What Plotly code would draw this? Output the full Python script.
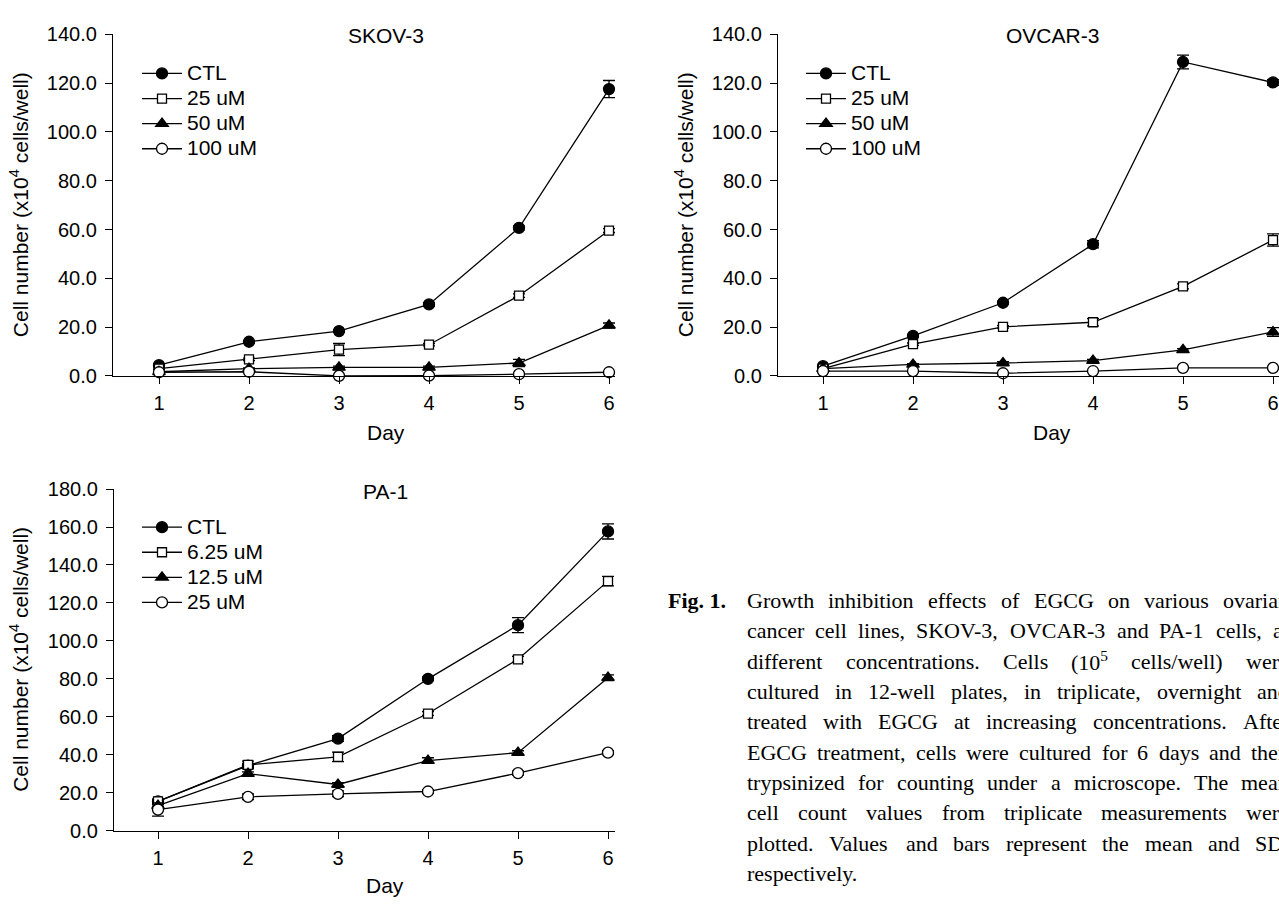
import plotly.graph_objects as go

# ---------------- data ----------------
days = [1, 2, 3, 4, 5, 6]

skov_labels = ["CTL", "25 uM", "50 uM", "100 uM"]
skov_ctl = [4.4, 14.0, 18.4, 29.3, 60.7, 117.6]
skov_25 = [3.0, 6.8, 10.8, 12.8, 32.9, 59.6]
skov_50 = [1.7, 3.0, 3.5, 3.5, 5.3, 20.7]
skov_100 = [1.5, 1.7, 0.0, 0.1, 0.7, 1.5]
skov_ctl_sd = [0.5, 0.5, 0.5, 0.7, 0.8, 3.5]
skov_25_sd = [0.3, 0.5, 2.5, 0.5, 0.7, 0.8]
skov_50_sd = [0.3, 0.3, 0.5, 0.5, 1.5, 1.0]
skov_100_sd = [0.2, 0.3, 0.2, 0.2, 0.2, 0.2]

ovcar_labels = ["CTL", "25 uM", "50 uM", "100 uM"]
ovcar_ctl = [4.0, 16.4, 30.0, 54.0, 128.7, 120.3]
ovcar_25 = [3.0, 13.0, 20.1, 22.0, 36.7, 55.7]
ovcar_50 = [3.0, 4.7, 5.3, 6.3, 10.7, 18.0]
ovcar_100 = [2.0, 2.0, 1.1, 2.0, 3.3, 3.3]
ovcar_ctl_sd = [0.3, 0.5, 0.6, 1.5, 2.8, 1.2]
ovcar_25_sd = [0.3, 0.5, 0.5, 1.5, 1.0, 2.5]
ovcar_50_sd = [0.2, 0.3, 0.5, 0.5, 0.5, 1.8]
ovcar_100_sd = [0.2, 0.2, 0.2, 0.2, 0.3, 0.3]

pa1_labels = ["CTL", "6.25 uM", "12.5 uM", "25 uM"]
pa1_ctl = [15.4, 34.3, 48.5, 80.0, 108.3, 157.7]
pa1_625 = [15.4, 34.6, 38.9, 61.7, 90.3, 131.5]
pa1_125 = [13.2, 30.0, 24.3, 36.9, 41.1, 80.6]
pa1_25 = [11.1, 17.8, 19.4, 20.6, 30.3, 41.1]
pa1_ctl_sd = [1.0, 1.0, 1.5, 1.0, 4.0, 4.0]
pa1_625_sd = [1.0, 2.0, 2.5, 1.0, 1.5, 2.5]
pa1_125_sd = [0.5, 1.0, 1.0, 1.5, 1.0, 1.5]
pa1_25_sd = [3.5, 1.5, 1.5, 1.0, 1.0, 1.0]

panel_titles = ["SKOV-3", "OVCAR-3", "PA-1"]
x_title = "Day"
y_title = "Cell number (x10<sup>4</sup> cells/well)"
y_ticks_small = [0, 20, 40, 60, 80, 100, 120, 140]
y_ticks_large = [0, 20, 40, 60, 80, 100, 120, 140, 160, 180]

caption_label = "Fig. 1."
caption_lines = [
    "Growth inhibition effects of EGCG on various ovarian",
    "cancer cell lines, SKOV-3, OVCAR-3 and PA-1 cells, at",
    "different concentrations. Cells (10<sup>5</sup> cells/well) were",
    "cultured in 12-well plates, in triplicate, overnight and",
    "treated with EGCG at increasing concentrations. After",
    "EGCG treatment, cells were cultured for 6 days and then",
    "trypsinized for counting under a microscope. The mean",
    "cell count values from triplicate measurements were",
    "plotted. Values and bars represent the mean and SD,",
    "respectively.",
]

# ---------------- layout helpers ----------------
W, H = 1279, 906
SANS = "Arial, Liberation Sans, sans-serif"
SERIF = "Times New Roman, Liberation Serif, serif"
FS_TICK = 20
FS_TXT = 21
FS_LEG_BASE = 17


def px(x):
    return x / W


def py(y):
    return 1 - y / H


styles = [
    dict(symbol="circle", size=11, color="black"),
    dict(symbol="square", size=9, color="white"),
    dict(symbol="triangle-up", size=11, color="black"),
    dict(symbol="circle", size=11, color="white"),
]

panels = [
    dict(xaxis="x", yaxis="y", legend="legend", labels=skov_labels,
         series=[skov_ctl, skov_25, skov_50, skov_100],
         sds=[skov_ctl_sd, skov_25_sd, skov_50_sd, skov_100_sd]),
    dict(xaxis="x2", yaxis="y2", legend="legend2", labels=ovcar_labels,
         series=[ovcar_ctl, ovcar_25, ovcar_50, ovcar_100],
         sds=[ovcar_ctl_sd, ovcar_25_sd, ovcar_50_sd, ovcar_100_sd]),
    dict(xaxis="x3", yaxis="y3", legend="legend3", labels=pa1_labels,
         series=[pa1_ctl, pa1_625, pa1_125, pa1_25],
         sds=[pa1_ctl_sd, pa1_625_sd, pa1_125_sd, pa1_25_sd]),
]

fig = go.Figure()
for p in panels:
    for lab, ys, sd, st in zip(p["labels"], p["series"], p["sds"], styles):
        fig.add_trace(go.Scatter(
            x=days, y=ys,
            name='<span style="font-size:%dpx">%s</span>' % (FS_TXT, lab),
            mode="lines+markers",
            xaxis=p["xaxis"], yaxis=p["yaxis"], legend=p["legend"],
            line=dict(color="black", width=1.3),
            marker=dict(symbol=st["symbol"], size=st["size"], color=st["color"],
                        line=dict(color="black", width=1.3)),
            error_y=dict(type="data", array=sd, visible=True, color="black",
                         thickness=1.3, width=6),
            cliponaxis=False,
        ))

axis_common = dict(showline=True, linecolor="black", linewidth=1.3, ticks="outside",
                   ticklen=7, tickwidth=1.3, tickcolor="black", showgrid=False,
                   zeroline=False, tickfont=dict(family=SANS, size=FS_TICK, color="black"))

# pixel geometry of each panel: (x axis start, day1, day6, x end, y bottom, y top)
geo = [
    (113, 159, 609, 615, 374, 24),
    (778, 823, 1273, 1279, 374, 24),
    (114, 158, 608, 615, 840, 490),
]
yranges = [(0, 140), (0, 140), (0, 180)]
yticks = [y_ticks_small, y_ticks_small, y_ticks_large]

layout = dict(width=W, height=H, margin=dict(l=0, r=0, t=0, b=0),
              paper_bgcolor="white", plot_bgcolor="white", showlegend=True)
for i, (g, yr, yt) in enumerate(zip(geo, yranges, yticks)):
    x0, d1, d6, x1, yb, yt_px = g
    per = (d6 - d1) / 5.0
    xr = [1 - (d1 - x0) / per, 6 + (x1 - d6) / per]
    sfx = "" if i == 0 else str(i + 1)
    layout["xaxis" + sfx] = dict(axis_common, domain=[px(x0), px(x1)], range=xr,
                                 tickvals=days, anchor="y" + sfx,
                                 ticklabelstandoff=2)
    layout["yaxis" + sfx] = dict(axis_common, domain=[py(yb), py(yt_px)], range=list(yr),
                                 tickvals=yt, tickformat=".1f", anchor="x" + sfx,
                                 ticklabelstandoff=4)

leg_common = dict(bgcolor="rgba(0,0,0,0)",
                  font=dict(family=SANS, size=FS_LEG_BASE, color="black"),
                  itemwidth=40, xanchor="left", yanchor="top", tracegroupgap=0,
                  borderwidth=0)
layout["legend"] = dict(leg_common, x=px(137), y=py(46))
layout["legend2"] = dict(leg_common, x=px(801), y=py(46))
layout["legend3"] = dict(leg_common, x=px(137), y=py(511))

fig.update_layout(**layout)

ann = []


def text_ann(x, y, t, size=FS_TXT, family=SANS, angle=0, xanchor="center"):
    ann.append(dict(x=px(x), y=py(y), xref="paper", yref="paper", text=t, showarrow=False,
                    textangle=angle, xanchor=xanchor, yanchor="middle", borderpad=0,
                    font=dict(family=family, size=size, color="black")))


title_pos = [(386, 25), (1052, 25), (385, 492)]
day_pos = [(386, 432), (1052, 432), (385, 896)]
ytitle_pos = [(19, 199), (684, 199), (19, 665)]
for t, tp, dp, yp in zip(panel_titles, title_pos, day_pos, ytitle_pos):
    text_ann(tp[0], tp[1], t)
    text_ann(dp[0], dp[1], x_title)
    text_ann(yp[0], yp[1], y_title, angle=-90)

# caption, justified by word placement using Times metrics
TW = {' ': 250, '!': 333, '(': 333, ')': 333, ',': 250, '-': 333, '.': 250, '/': 278, ':': 278,
      'A': 722, 'B': 667, 'C': 667, 'D': 722, 'E': 611, 'F': 556, 'G': 722, 'H': 722, 'I': 333,
      'J': 389, 'K': 722, 'L': 611, 'M': 889, 'N': 722, 'O': 722, 'P': 556, 'Q': 722, 'R': 667,
      'S': 556, 'T': 611, 'U': 722, 'V': 722, 'W': 944, 'X': 722, 'Y': 722, 'Z': 611,
      'a': 444, 'b': 500, 'c': 444, 'd': 500, 'e': 444, 'f': 333, 'g': 500, 'h': 500, 'i': 278,
      'j': 278, 'k': 500, 'l': 278, 'm': 778, 'n': 500, 'o': 500, 'p': 500, 'q': 500, 'r': 333,
      's': 389, 't': 278, 'u': 500, 'v': 500, 'w': 722, 'x': 500, 'y': 500, 'z': 444}
CFS = 22


def word_width(w):
    total = 0.0
    scale = 1.0
    i = 0
    while i < len(w):
        if w.startswith("<sup>", i):
            scale = 0.7
            i += 5
            continue
        if w.startswith("</sup>", i):
            scale = 1.0
            i += 6
            continue
        total += TW.get(w[i], 500) * scale
        i += 1
    return total / 1000.0 * CFS


cap_x0, cap_x1 = 746, 1288
cap_y0, cap_dy = 604, 31.1
ann.append(dict(x=px(667), y=py(cap_y0), xref="paper", yref="paper",
                text="<b>" + caption_label + "</b>", showarrow=False, xanchor="left",
                yanchor="middle", borderpad=0,
                font=dict(family=SERIF, size=CFS, color="black")))
for li, line in enumerate(caption_lines):
    y = cap_y0 + li * cap_dy
    words = line.split(" ")
    widths = [word_width(w) for w in words]
    if li < len(caption_lines) - 1 and len(words) > 1:
        gap = (cap_x1 - cap_x0 - sum(widths)) / (len(words) - 1)
    else:
        gap = TW[' '] / 1000.0 * CFS
    x = cap_x0
    for w, ww in zip(words, widths):
        ann.append(dict(x=px(x), y=py(y), xref="paper", yref="paper", text=w,
                        showarrow=False, xanchor="left", yanchor="middle", borderpad=0,
                        font=dict(family=SERIF, size=CFS, color="black")))
        x += ww + gap

fig.update_layout(annotations=ann)
fig.write_html("out.html",
               config={"displayModeBar": False},
               post_script="document.body.style.margin='0';"
                           "document.body.style.overflow='hidden';")
